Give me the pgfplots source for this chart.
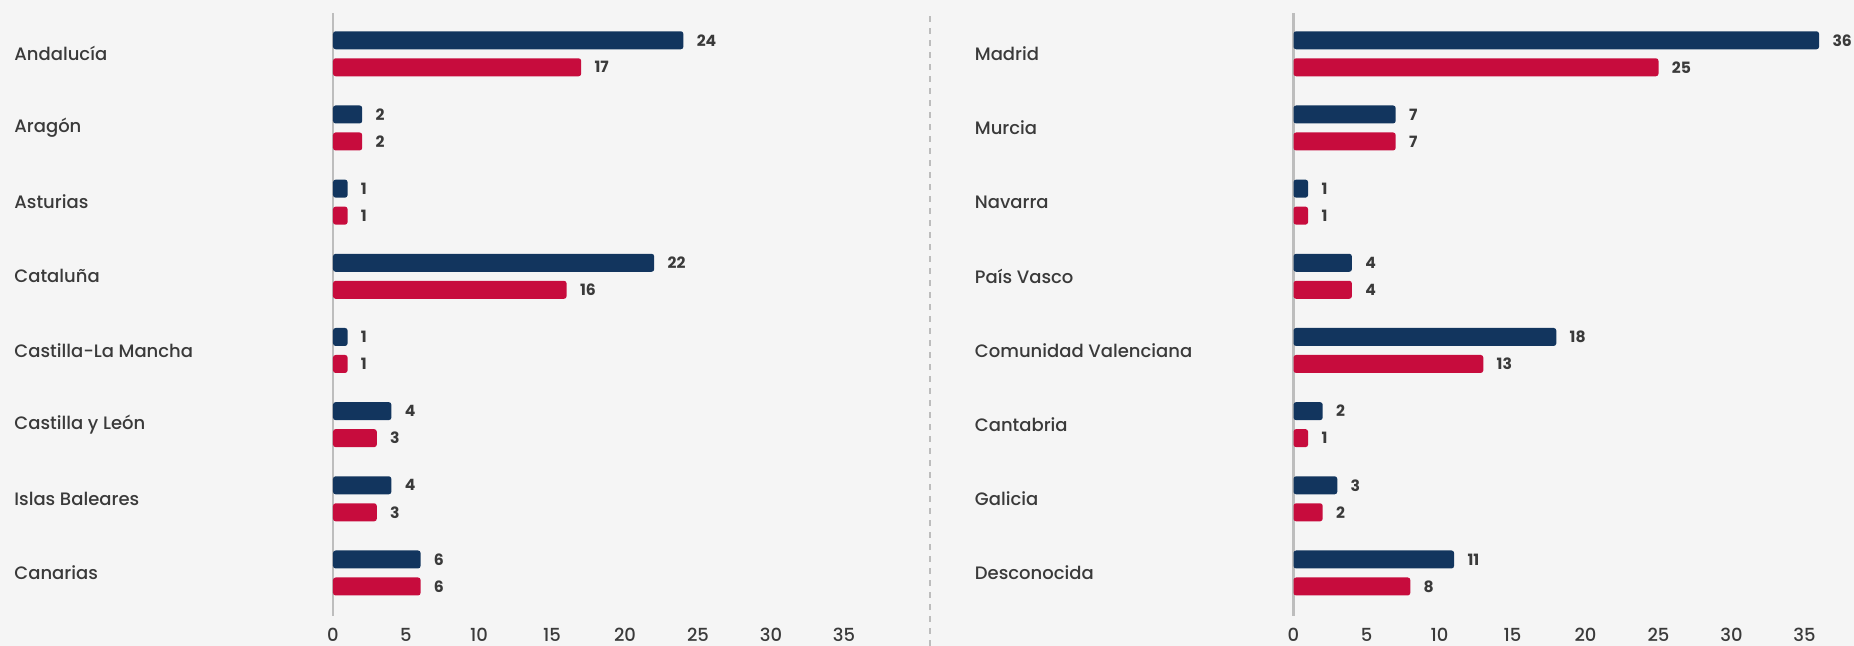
\documentclass[border=0pt]{standalone}
\usepackage{fontspec}
\setmainfont{Poppins}
\newfontfamily\medio{Poppins Medium}
\usepackage{pgfplots}
\pgfplotsset{compat=1.18}

\definecolor{fondo}{HTML}{F5F5F5}
\definecolor{azul}{HTML}{12355E}
\definecolor{rojo}{HTML}{C70C3D}
\definecolor{texto}{HTML}{3A3A3A}
\definecolor{eje}{HTML}{BDBDBD}

% 1 px de la referencia = 0.5pt
\pgfplotsset{
  panel/.style={
    xbar,
    scale only axis,
    width=270.1pt, height=301.5pt,
    xmin=0, xmax=37,
    ymin=-0.55, ymax=7.58,
    y dir=reverse,
    ytick={0,...,7},
    xtick={0,5,...,35},
    major tick length=0pt,
    axis lines=left,
    x axis line style={draw=none},
    y axis line style={draw=eje, line width=1.2pt, -},
    bar width=9pt,
    enlargelimits=false,
    clip=false,
    tick label style={font=\medio\fontsize{9}{11}\selectfont, color=texto},
    /pgf/number format/assume math mode=true,
    xticklabel style={yshift=-2.5pt},
    yticklabel style={anchor=west, xshift=-159.5pt, inner sep=0pt},
    nodes near coords,
    nodes near coords style={font=\bfseries\fontsize{7.8}{9}\selectfont,
      color=texto, inner sep=0pt, xshift=6.5pt, anchor=west},
  },
  azulbar/.style={fill=azul, draw=none, rounded corners=1.3pt, bar shift=6.75pt},
  rojobar/.style={fill=rojo, draw=none, rounded corners=1.3pt, bar shift=-6.75pt},
}

\begin{document}
\begin{tikzpicture}
\fill[fondo] (0,0) rectangle (927pt,323pt);
\useasboundingbox (0,0) rectangle (927pt,323pt);
\draw[eje, line width=0.6pt, dash pattern=on 3pt off 3pt] (465pt,0pt) -- (465pt,317pt);

\begin{axis}[panel, at={(166.5pt,15pt)}, anchor=south west,
  yticklabels={Andalucía, Aragón, Asturias, Cataluña, Castilla-La Mancha,
    Castilla y León, Islas Baleares, Canarias}]
  \addplot[azulbar] coordinates {
    (24,0) (2,1) (1,2) (22,3) (1,4) (4,5) (4,6) (6,7)
  };
  \addplot[rojobar] coordinates {
    (17,0) (2,1) (1,2) (16,3) (1,4) (3,5) (3,6) (6,7)
  };
\end{axis}

\begin{axis}[panel, at={(646.75pt,15pt)}, anchor=south west,
  yticklabels={Madrid, Murcia, Navarra, País Vasco, Comunidad Valenciana,
    Cantabria, Galicia, Desconocida}]
  \addplot[azulbar] coordinates {
    (36,0) (7,1) (1,2) (4,3) (18,4) (2,5) (3,6) (11,7)
  };
  \addplot[rojobar] coordinates {
    (25,0) (7,1) (1,2) (4,3) (13,4) (1,5) (2,6) (8,7)
  };
\end{axis}
\end{tikzpicture}
\end{document}
